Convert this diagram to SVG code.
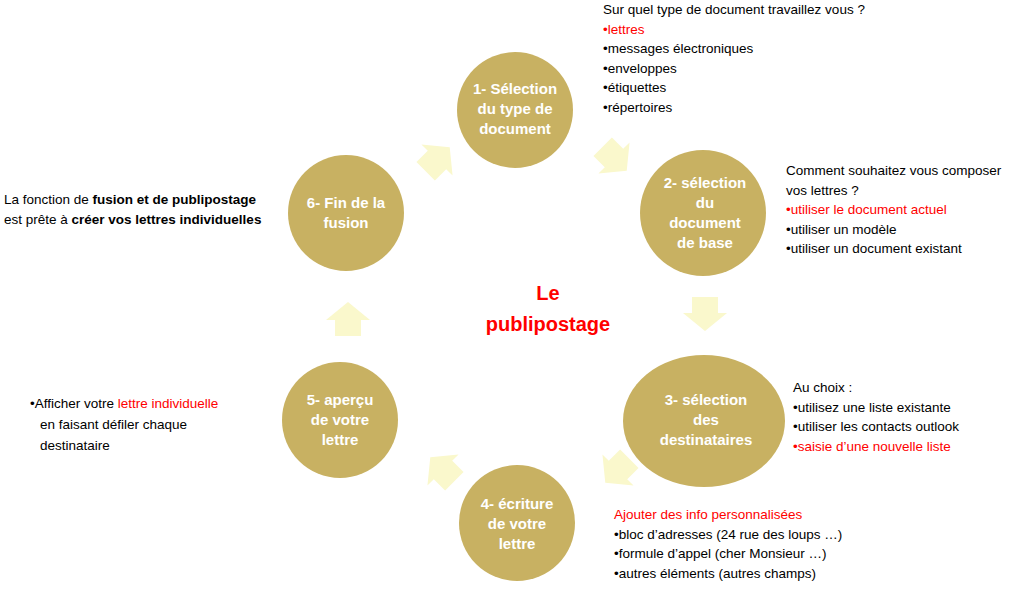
<svg xmlns="http://www.w3.org/2000/svg" width="1024" height="594" viewBox="0 0 1024 594">
<style>
.c{fill:#C8B162}
.t{font-family:"Liberation Sans",sans-serif;font-size:15px;font-weight:bold;fill:#fff;text-anchor:middle}
.s{font-family:"Liberation Sans",sans-serif;font-size:13.5px;fill:#000}
.r{fill:#F00}
.a{fill:#FAF8CC}
</style>
<defs><path id="ar" d="M-13,-16 L13,-16 L13,0 L22,0 L0,18 L-22,0 L-13,0 Z"/></defs>
<rect width="1024" height="594" fill="#fff"/>
<g id="connectors">
<use href="#ar" class="a" transform="translate(614,158) rotate(-45)"/>
<use href="#ar" class="a" transform="translate(705,313)"/>
<use href="#ar" class="a" transform="translate(618,470) rotate(45)"/>
<use href="#ar" class="a" transform="translate(443,470) rotate(135)"/>
<use href="#ar" class="a" transform="translate(348,320) rotate(180)"/>
<use href="#ar" class="a" transform="translate(437,160) rotate(-135)"/>
</g>
<g id="n1"><circle class="c" cx="515" cy="110" r="58"/><text class="t" x="515" y="94">1- Sélection<tspan x="515" dy="20">du type de</tspan><tspan x="515" dy="20">document</tspan></text></g>
<g id="n2"><circle class="c" cx="703" cy="213" r="63"/><text class="t" x="705" y="188">2-  sélection<tspan x="705" dy="20">du</tspan><tspan x="705" dy="20">document</tspan><tspan x="705" dy="20">de base</tspan></text></g>
<g id="n3"><ellipse class="c" cx="704" cy="421" rx="81" ry="66"/><text class="t" x="706" y="405">3- sélection<tspan x="706" dy="20">des</tspan><tspan x="706" dy="20">destinataires</tspan></text></g>
<g id="n4"><circle class="c" cx="517" cy="523" r="58"/><text class="t" x="517" y="509">4- écriture<tspan x="517" dy="20">de votre</tspan><tspan x="517" dy="20">lettre</tspan></text></g>
<g id="n5"><circle class="c" cx="340" cy="420" r="58"/><text class="t" x="340" y="405">5- aperçu<tspan x="340" dy="20">de votre</tspan><tspan x="340" dy="20">lettre</tspan></text></g>
<g id="n6"><circle class="c" cx="346" cy="213" r="58"/><text class="t" x="346" y="208">6- Fin de la<tspan x="346" dy="20">fusion</tspan></text></g>
<text x="548" y="300" font-family="Liberation Sans,sans-serif" font-size="20" font-weight="bold" fill="#F00" text-anchor="middle">Le<tspan x="548" dy="31">publipostage</tspan></text>
<g id="notes">
<text class="s" x="603" y="14">Sur quel type de document travaillez vous ?<tspan x="603" dy="19.5" class="r">•lettres</tspan><tspan x="603" dy="19.5">•messages électroniques</tspan><tspan x="603" dy="19.5">•enveloppes</tspan><tspan x="603" dy="19.5">•étiquettes</tspan><tspan x="603" dy="19.5">•répertoires</tspan></text>
<text class="s" x="786" y="175">Comment souhaitez vous composer<tspan x="786" dy="19.5">vos lettres ?</tspan><tspan x="786" dy="19.5" class="r">•utiliser le document actuel</tspan><tspan x="786" dy="19.5">•utiliser un modèle</tspan><tspan x="786" dy="19.5">•utiliser un document existant</tspan></text>
<text class="s" x="793" y="392">Au choix :<tspan x="793" dy="19.5">•utilisez une liste existante</tspan><tspan x="793" dy="19.5">•utiliser les contacts outlook</tspan><tspan x="793" dy="19.5" class="r">•saisie d’une nouvelle liste</tspan></text>
<text class="s" x="614" y="519"><tspan class="r">Ajouter des info personnalisées</tspan><tspan x="614" dy="19.5">•bloc d’adresses (24 rue des loups …)</tspan><tspan x="614" dy="19.5">•formule d’appel (cher Monsieur …)</tspan><tspan x="614" dy="19.5">•autres éléments (autres champs)</tspan></text>
<text class="s" x="4" y="204">La fonction de <tspan font-weight="bold">fusion et de publipostage</tspan><tspan x="4" dy="20">est prête à </tspan><tspan font-weight="bold">créer vos lettres individuelles</tspan></text>
<text class="s" x="30" y="408" font-size="15">•Afficher votre <tspan class="r">lettre individuelle</tspan><tspan x="40" dy="21">en faisant défiler chaque</tspan><tspan x="40" dy="21">destinataire</tspan></text>
</g>
</svg>
